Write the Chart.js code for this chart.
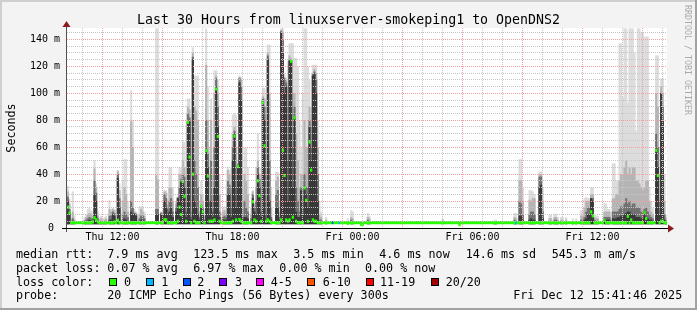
<!DOCTYPE html>
<html>
<head>
<meta charset="utf-8">
<script src="https://cdn.jsdelivr.net/npm/chart.js@4.4.1/dist/chart.umd.min.js"></script>
<style>
html,body{margin:0;padding:0;background:#f3f3f3;}
canvas{display:block;}
</style>
</head>
<body>
<canvas id="c" width="697" height="310"></canvas>
<script>
// ---------------- text ----------------
const titleText = 'Last 30 Hours from linuxserver-smokeping1 to OpenDNS2';
const yAxisTitle = 'Seconds';
const watermark = 'RRDTOOL / TOBI OETIKER';

// ---------------- axes ----------------
const xTickMinutes = [720, 1080, 1440, 1800, 2160];
const xTickLabels = ['Thu 12:00', 'Thu 18:00', 'Fri 00:00', 'Fri 06:00', 'Fri 12:00'];
const yTickValues = [0, 20, 40, 60, 80, 100, 120, 140];
const yTickLabels = ['0 ', '20 m', '40 m', '60 m', '80 m', '100 m', '120 m', '140 m'];

// time columns: 360 steps of 5 minutes, minutes counted from Thu 00:00
const columnCount = 360;
const stepMinutes = 5;
const startMinute = 583.5;

// ---------------- data (milliseconds) ----------------
const baseMedian = 4.0;   // flat median line
const baseMin = 3.0;      // lowest ping of each step

const spikeCol = [
  0,1,2,3,4,10,11,12,13,14,
  15,16,17,18,19,20,21,22,23,25,
  26,27,28,30,31,33,34,35,36,38,
  39,40,41,43,44,45,46,53,54,56,
  57,58,59,60,61,62,63,65,66,67,
  68,69,70,71,72,73,74,75,76,77,
  78,79,80,81,82,83,84,85,86,87,
  88,89,90,91,93,94,95,96,97,98,
  99,100,101,102,103,104,105,106,107,108,
  110,111,112,113,114,115,116,117,118,119,
  120,121,122,125,126,127,128,129,130,131,
  132,133,134,135,136,137,138,139,140,141,
  142,143,144,145,146,147,148,149,150,151,
  152,155,168,170,171,176,177,180,181,225,
  235,256,257,268,269,271,272,273,277,278,
  279,280,283,284,285,289,290,292,293,294,
  296,297,299,303,305,308,309,310,311,312,
  313,314,315,316,317,318,322,323,324,325,
  327,328,329,330,331,332,333,334,335,336,
  337,338,339,340,341,342,343,344,345,346,
  347,348,349,350,351,353,354,355,356,357,
  358,359
];
// highest ping (lightest smoke)
const spikeMax = [
  31,22,8,27,9,8,10,14,15,13,
  12,50,33,12,8,9,7,8,9,20.5,
  14,15,14,43,33,35,51,51,20,102,
  80,14,12,16,16,16,12,148,148,12,
  12,28,28,18,45,45,30,20,23,45,
  45,64,64,30,96,96,20,134,113,113,
  113,20,35,25,14,148,105,60,96,40,
  117,117,110,40,15,16,14,45,43,45,
  84,85,84,50,113,112,30,59.5,59.5,45,
  15,28,20,45,70,45,40,104,104,40,
  136,136,30,41.6,41.6,20,148,148,115,111,
  124,137,137,137,126,126,120,80,60,100,
  148,148,120,110,90,121,121,121,80,20,
  12,8,7,13,12,5,5,11,9,6.4,
  5,6,6,11,11,51,51,30,28,28,
  27,25,41.8,41.8,30,9.6,9.6,10.4,10.4,8,
  8,8,8,7,7,13,13,22,23,22,
  22,30,30,10,9,9,18.6,18,14,14,
  47.8,47.8,35,35,137,137,97,148,148,93,
  148,148,148,130,72,148,148,145,145,142,
  142,142,30,20,15,128,128,60,111,111,
  40,10
];
// upper pings, second smoke band
const spikeUpper = [
  27,18,6,12,6,6,8,10,11,10,
  9,44,30,9,6,7,5,6,7,14,
  12,14,13,42,28,20,30,25,12,79,
  60,12,11,10,14,12,9,39,36,12,
  11,27,26,17,30,30,20,18,23,40,
  40,50,45,20,90,88,12,130,90,87,
  80,12,25,20,9,121,80,40,80,25,
  100,113,100,25,12,13,10,43,40,30,
  70,75,60,48,112,110,15,40,35,25,
  10,27,18,30,50,40,25,98,96,20,
  130,100,15,35,38,12,147,145,112,110,
  90,128,126,100,100,70,50,30,40,40,
  80,60,60,90,75,115,118,115,60,10,
  8,6,5,8,7,4.5,4.5,8,7,6,
  4.5,5,5,8,7,35.6,35,20,20.8,20,
  22,22,40,40,20,7,7,8,8,6,
  6,6,6,5,5,9,9,15,20,20,
  20,25,25,8,7,7,12,12,12,12,
  21.8,21.8,25,25,35,40,40,45,50,40,
  45,40,45,45,35,35,33,30,28,30,
  35,35,20,12,10,100,90,40,105,100,
  20,7
];
// middle pings, third smoke band
const spikeMid = [
  23,14,5,7,5,5,6,7,8,7,
  7,35,26,7,5,5,4.5,5,5,9,
  9,12,11,40,22,10,12,10,8,20,
  15,11,10,7,9,9,7,14,14,11,
  10,25,22,14,20,22,12,15,22.5,30,
  36,40,38,12,85,82,8,127,50,40,
  30,8,17,15,6,80,55,20,50,12,
  60,111,90,12,8,9,8,35,32,15,
  60,72,30,47,111,105,8,20,15,12,
  7,25,15,20,45,36,12,96,90,10,
  128,50,8,25,28,8,146,140,111,108,
  50,125,124.5,60,90,30,20,12,30,20,
  40,30,30,80,60,114,116,110,40,6,
  6,5,5,6,5,4,4,6,5,5,
  4,4.5,4.5,6,5,20,18,10,10,12,
  12,10,38,38,12,5,5,6,6,5,
  5,5,5,4.5,4.5,6,6,8,12,15,
  15,22,22,6,5,5,8,8,8,8,
  12,12,12,12,14,16,16,18,22,18,
  20,16,18,18,15,15,15,12,12,14,
  15,12,10,8,7,70,60,20,100,90,
  10,5
];
// central pings, darkest smoke band
const spikeCore = [
  20,11,4.5,5,4,4.5,5,5,6,5,
  5,25,20,5,4,4,4,4,4,6,
  6,10,9,37,15,6,7,6,5,12,
  10,10.5,9,5,6,6,5,10,10,10,
  9,20,15,10,12,15,8,12,22,20,
  34,34,30,8,79,79,6,125,20,15,
  10,6,16.5,13,5,58,45,10,20,8,
  30,105,75,8,6,6,6,25,25,8,
  50,70,15,46,108,95,6,8,8,7,
  5,22,12,10,40,30,8,95,80,6,
  125,20,6,15,15,6,145,130,100,105,
  20,124,123.5,30,82,12,8,8,28,10,
  30,25,15,75,50,113,114.6,100,20,5,
  5,4.5,4,5,4.5,3.5,3.5,5,4.5,4.5,
  3.5,4,4,5,4.5,9,9,6,6,7,
  6,6,30,32,7,4.5,4.5,5,5,4.5,
  4.5,4.5,4.5,4,4,5,5,6,7,10,
  10,22,20,5,4.5,4.5,6,6,6,6,
  7,7,7,8,8,9,9,10,11,12,
  12,10,10,10,8,8,8,7,7,12,
  8,7,6,6,5,59,45,10,99.8,80,
  6,4.5
];
// median rtt of those steps
const spikeMed = [
  15.5,11,4,4,4,4,4,4,4,4,
  4.5,7.7,6,4.5,4,4,4,4,4,4,
  4,4,4.5,5.7,4,4,4,4,4,4,
  4,4,4,4,4,4,4,4,4,4,
  4,6.2,6,4,4,4,4,4,5,15.5,
  10,34.4,23.5,5,78.5,52.7,4,40,5,4,
  4,4,16,12,4,57.4,38.6,5,5,5,
  6,103.2,68,5,4,4,4,4,4,4,
  5,68.3,6,45.6,6.2,5,4,4,4,4,
  4,19.5,6,5,35,24,5,93,61,5,
  6,5,4,4,4,4,6,57.7,39,6,
  5,6,123.8,8,81.8,5,4,4,4,4,
  29.7,20.5,5,63.8,43,6,5,5,4,4,
  4,4,3.5,4,4,2.7,2.7,4,4,4,
  2.5,4,4,4,4,4,4,4,4,4,
  4,4,4,4,4,4,4,4,4,4,
  4,4,4,4,4,4,4,4,4,4,
  4,12,9,4,4,4,5.7,4,4,4,
  4,4,4,4,4,4,4,4,4,8.7,
  4,6,4,4,4,4,4,4,4,11.4,
  7,4,4,4,4,57.7,39,4,5,5,
  4,4
];
// steps with packet loss (lost pings out of 20)
const lossCol = [159, 163, 269];
const lossLevel = [2, 1, 1];

// legend
const lossLegend = ['0', '1', '2', '3', '4-5', '6-10', '11-19', '20/20'];
const lossColors = ['#26ff00', '#00b8ff', '#0059ff', '#7e00ff', '#ff00ff', '#ff5500', '#ff0000', '#a10000'];
const lossColorForLevel = [0, 1, 2, 3, 4, 4, 5, 5, 5, 5, 5];
const rttStats = ['7.9 ms avg', '123.5 ms max', '3.5 ms min', '4.6 ms now', '14.6 ms sd', '545.3 m am/s'];
const lossStats = ['0.07 % avg', '6.97 % max', '0.00 % min', '0.00 % now'];
const probeText = '20 ICMP Echo Pings (56 Bytes) every 300s';
const stampText = 'Fri Dec 12 15:41:46 2025';

// ---------------- build ----------------
const colTime = k => startMinute + stepMinutes * (k + 0.5);
const medianByCol = new Array(columnCount).fill(baseMedian);
spikeCol.forEach((c, i) => { medianByCol[c] = spikeMed[i]; });
const lossByCol = new Array(columnCount).fill(0);
lossCol.forEach((c, i) => { lossByCol[c] = lossLevel[i]; });

const MONO = "'DejaVu Sans Mono', monospace";
const medHalf = 0.95;

function smokeLayer(vals, color, order) {
  return {
    type: 'bar',
    data: spikeCol.map((c, i) => ({ x: colTime(c), y: [baseMin, vals[i]] })),
    backgroundColor: color,
    borderWidth: 0,
    grouped: false,
    barPercentage: 1,
    categoryPercentage: 1,
    inflateAmount: 0.2,
    order: order
  };
}

const medianSet = {
  type: 'bar',
  data: medianByCol.map((m, k) => ({ x: colTime(k), y: [m - medHalf, m + medHalf] })),
  backgroundColor: lossByCol.map(l => lossColors[lossColorForLevel[l]]),
  borderWidth: 0,
  grouped: false,
  barPercentage: 1,
  categoryPercentage: 1,
  inflateAmount: 0.3,
  order: 0
};

const hourTicks = [];
for (let m = 600; m < startMinute + stepMinutes * columnCount; m += 60) hourTicks.push(m);
const fiveTicks = [];
for (let v = 0; v <= 145; v += 5) fiveTicks.push(v);

const MAJOR = '#f0a0a0';
const MINOR = '#c6c6c6';

const deco = {
  id: 'deco',
  beforeDraw(chart) {
    const ctx = chart.ctx, a = chart.chartArea;
    ctx.save();
    ctx.fillStyle = '#f3f3f3';
    ctx.fillRect(0, 0, 697, 310);
    ctx.fillStyle = '#cfcfcf';
    ctx.fillRect(0, 0, 697, 2);
    ctx.fillRect(0, 0, 2, 310);
    ctx.fillStyle = '#a2a2a2';
    ctx.fillRect(0, 308, 697, 2);
    ctx.fillRect(695, 0, 2, 310);
    ctx.fillStyle = '#ffffff';
    ctx.fillRect(a.left, a.top, a.right - a.left, a.bottom - a.top);
    ctx.restore();
  },
  afterDraw(chart) {
    const ctx = chart.ctx, a = chart.chartArea;
    const ys = chart.scales.y;
    const y0 = Math.round(ys.getPixelForValue(0)) + 0.5;
    ctx.save();
    // axes
    ctx.lineWidth = 1;
    ctx.strokeStyle = '#505050';
    ctx.beginPath(); ctx.moveTo(a.left - 0.5, a.bottom + 4); ctx.lineTo(a.left - 0.5, a.top - 3); ctx.stroke();
    ctx.strokeStyle = '#000000';
    ctx.beginPath(); ctx.moveTo(a.left - 5, y0); ctx.lineTo(a.right + 1, y0); ctx.stroke();
    ctx.fillStyle = '#8c1c1c';
    ctx.beginPath(); ctx.moveTo(a.right + 1, y0 - 4); ctx.lineTo(a.right + 7, y0); ctx.lineTo(a.right + 1, y0 + 4); ctx.closePath(); ctx.fill();
    ctx.beginPath(); ctx.moveTo(a.left - 4.5, a.top - 1); ctx.lineTo(a.left - 0.5, a.top - 7); ctx.lineTo(a.left + 3.5, a.top - 1); ctx.closePath(); ctx.fill();

    // title
    ctx.fillStyle = '#000';
    ctx.textBaseline = 'alphabetic';
    ctx.textAlign = 'center';
    ctx.font = '13.25px ' + MONO;
    ctx.fillText(titleText, 348.5, 24);

    // y axis title
    ctx.save();
    ctx.translate(15, (a.top + a.bottom) / 2);
    ctx.rotate(-Math.PI / 2);
    ctx.font = '11.7px ' + MONO;
    ctx.textAlign = 'center';
    ctx.fillText(yAxisTitle, 0, 0);
    ctx.restore();

    // watermark
    ctx.save();
    ctx.translate(685, 5);
    ctx.rotate(Math.PI / 2);
    ctx.font = '8.3px ' + MONO;
    ctx.fillStyle = '#aaaaaa';
    ctx.textAlign = 'left';
    ctx.fillText(watermark, 0, 0);
    ctx.restore();

    // legend
    ctx.font = '11.7px ' + MONO;
    ctx.textAlign = 'left';
    ctx.fillStyle = '#000';
    const rows = [258, 271.8, 285.6, 299.4];
    ctx.fillText('median rtt:', 16, rows[0]);
    const rttX = [107.3, 193.3, 293.3, 379.3, 465.7, 551.7];
    rttStats.forEach((s, i) => ctx.fillText(s, rttX[i], rows[0]));
    ctx.fillText('packet loss:', 16, rows[1]);
    const lossX = [107.3, 193.3, 279.3, 365];
    lossStats.forEach((s, i) => ctx.fillText(s, lossX[i], rows[1]));
    ctx.fillText('loss color:', 16, rows[2]);
    const boxX = [108.7, 145.7, 182.7, 219.3, 256, 307.3, 365.7, 430.7];
    const labX = [124, 161.3, 197.3, 235, 270.7, 322.7, 380, 445.7];
    lossLegend.forEach((s, i) => {
      const bx = Math.round(boxX[i]);
      ctx.fillStyle = lossColors[i];
      ctx.fillRect(bx, 278, 8, 8);
      ctx.strokeStyle = '#000';
      ctx.strokeRect(bx + 0.5, 278.5, 7, 7);
      ctx.fillStyle = '#000';
      ctx.fillText(s, labX[i], rows[2]);
    });
    ctx.fillText('probe:', 16, rows[3]);
    ctx.fillText(probeText, 107.3, rows[3]);
    ctx.fillText(stampText, 513.3, rows[3]);
    ctx.restore();
  }
};

new Chart(document.getElementById('c'), {
  type: 'bar',
  data: {
    datasets: [
      medianSet,
      smokeLayer(spikeCore, '#383838', 1),
      smokeLayer(spikeMid, '#707070', 2),
      smokeLayer(spikeUpper, '#b4b4b4', 3),
      smokeLayer(spikeMax, '#dcdcdc', 4)
    ]
  },
  options: {
    responsive: false,
    animation: false,
    devicePixelRatio: 1,
    layout: { padding: { top: 28, right: 30, left: 0, bottom: 0 } },
    plugins: { legend: { display: false }, tooltip: { enabled: false }, title: { display: false } },
    scales: {
      x: {
        type: 'linear',
        min: startMinute,
        max: startMinute + stepMinutes * columnCount,
        offset: false,
        afterBuildTicks: s => { s.ticks = hourTicks.map(v => ({ value: v })); },
        afterFit: s => { s.height = 82; },
        ticks: {
          autoSkip: false, maxRotation: 0, minRotation: 0, padding: 3,
          font: { family: MONO, size: 10 }, color: '#000',
          callback: v => { const i = xTickMinutes.indexOf(v); return i >= 0 ? xTickLabels[i] : ''; }
        },
        grid: {
          z: 1, drawTicks: false, lineWidth: 1,
          color: c => (c.tick && c.tick.value % 180 === 0) ? MAJOR : MINOR
        },
        border: { display: false, dash: [1, 1] }
      },
      y: {
        type: 'linear',
        min: 0,
        max: 148.5,
        afterBuildTicks: s => { s.ticks = fiveTicks.map(v => ({ value: v })); },
        afterFit: s => { s.width = 67; },
        ticks: {
          autoSkip: false, padding: 7,
          font: { family: MONO, size: 10 }, color: '#000',
          callback: v => { const i = yTickValues.indexOf(v); return i >= 0 ? yTickLabels[i] : ''; }
        },
        grid: {
          z: 1, drawTicks: false, lineWidth: 1,
          color: c => (c.tick && c.tick.value % 20 === 0) ? MAJOR : MINOR
        },
        border: { display: false, dash: [1, 1] }
      }
    }
  },
  plugins: [deco]
});
</script>
</body>
</html>
